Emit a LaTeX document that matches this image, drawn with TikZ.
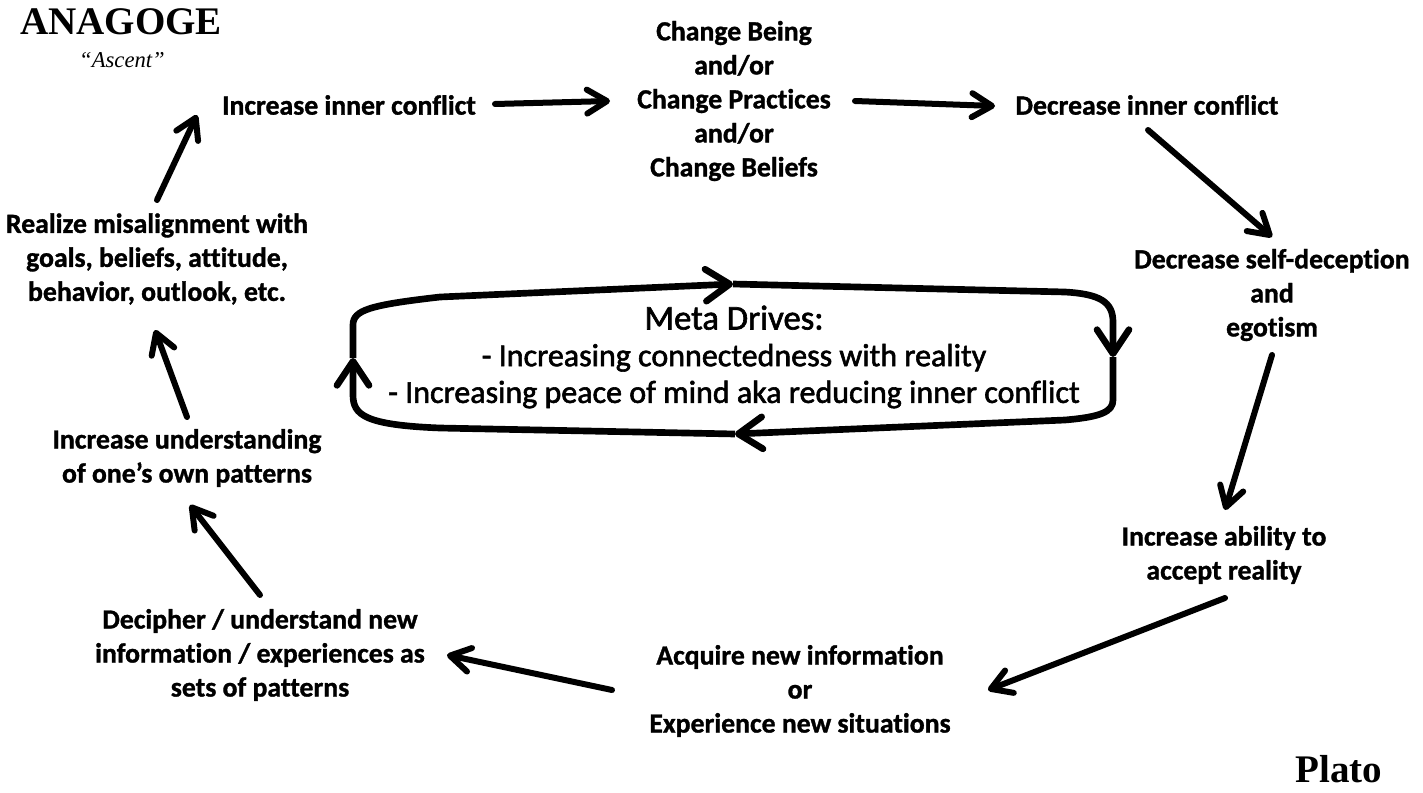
\documentclass[tikz,border=0pt]{standalone}
\usepackage{fontspec}
\setmainfont{Carlito}[Ligatures=NoCommon]
\newfontfamily\heavyfont{Carlito}[Ligatures=NoCommon, UprightFeatures={FakeBold=1.2}, BoldFeatures={FakeBold=1.2}]
\newfontfamily\metafont{Carlito}[Ligatures=NoCommon, FakeBold=1.8]
\newfontfamily\tnr{Liberation Serif}
\usetikzlibrary{arrows.meta,calc}
\begin{document}
\begin{tikzpicture}[x=0.75pt,y=-0.75pt,
  lbl/.style={font=\heavyfont\fontsize{20.8}{25.5}\selectfont\bfseries, align=center, inner sep=0pt},
  arr/.style={line width=4.5pt, line cap=round, -{Straight Barb[length=15pt,width=18pt,line join=round,line cap=round]}},
  loopseg/.style={line width=5pt, line join=round, -{Straight Barb[length=18pt,width=24pt,line join=round,line cap=round]}},
  ttl/.style={font=\tnr\fontsize{29.3}{30}\selectfont\bfseries, inner sep=0pt}]

\useasboundingbox (0,0) rectangle (1423,792);

% title and signature
\node[ttl] (title) at (121,22) {ANAGOGE};
\node[font=\tnr\fontsize{17}{18}\selectfont\itshape, inner sep=0pt] (asc) at (122,60) {“Ascent”};
\node[ttl] (plato) at (1339,769) {Plato};

% cycle nodes
\node[lbl] (inc) at (349,105) {Increase inner conflict};
\node[lbl] (chg) at (734,101) {Change Being\\and/or\\Change Practices\\and/or\\Change Beliefs};
\node[lbl] (dic) at (1147,105) {Decrease inner conflict};
\node[lbl] (dsd) at (1272,295) {Decrease self-deception\\and\\egotism};
\node[lbl] (iab) at (1224,555) {Increase ability to\\accept reality};
\node[lbl] (acq) at (800,691) {Acquire new information\\or\\Experience new situations};
\node[lbl] (dec) at (260,655) {Decipher / understand new\\information / experiences as\\sets of patterns};
\node[lbl] (ius) at (187,458) {Increase understanding\\of one’s own patterns};
\node[lbl] (rea) at (157,259) {Realize misalignment with\\goals, beliefs, attitude,\\behavior, outlook, etc.};

% cycle arrows
\draw[arr] ($(inc)+(146,-1)$) -- ($(chg)+(-124,0)$);
\draw[arr] ($(chg)+(121,0)$) -- ($(dic)+(-152,1)$);
\draw[arr] ($(dic)+(1,25)$) -- ($(dsd)+(0,-58)$);
\draw[arr] ($(dsd)+(0,60)$) -- ($(iab)+(1,-45)$);
\draw[arr] ($(iab)+(1,43)$) -- ($(acq)+(188,-1)$);
\draw[arr] ($(acq)+(-188,-1)$) -- ($(dec)+(187,0)$);
\draw[arr] ($(dec)+(0,-60)$) -- ($(ius)+(3,47)$);
\draw[arr] ($(ius)+(0,-41)$) -- ($(rea)+(-2,71)$);
\draw[arr] ($(rea)+(0,-59)$) -- ($(inc)+(-152,10)$);

% meta drives
\node[font=\metafont\fontsize{24}{27.5}\selectfont, align=center, inner sep=0pt] (meta) at (734,357)
  {{\fontsize{26}{27}\selectfont Meta Drives:}\\- Increasing connectedness with reality\\- Increasing peace of mind aka reducing inner conflict};

\coordinate (ltop) at (733,284);
\coordinate (rmid) at (1113,357);
\coordinate (lbot) at (735,434);
\coordinate (lmid) at (353,358);
\draw[loopseg] (lmid) -- (353,325) .. controls (353,310) and (370,305) .. (440,297) -- (ltop);
\draw[loopseg] (ltop) -- (1065,292) .. controls (1100,294) and (1113,302) .. (1113,322) -- (rmid);
\draw[loopseg] (rmid) -- (1113,400) .. controls (1113,412) and (1100,417) .. (1065,420) -- (lbot);
\draw[loopseg] (lbot) -- (440,428) .. controls (365,425) and (353,415) .. (353,395) -- (lmid);
\end{tikzpicture}
\end{document}
